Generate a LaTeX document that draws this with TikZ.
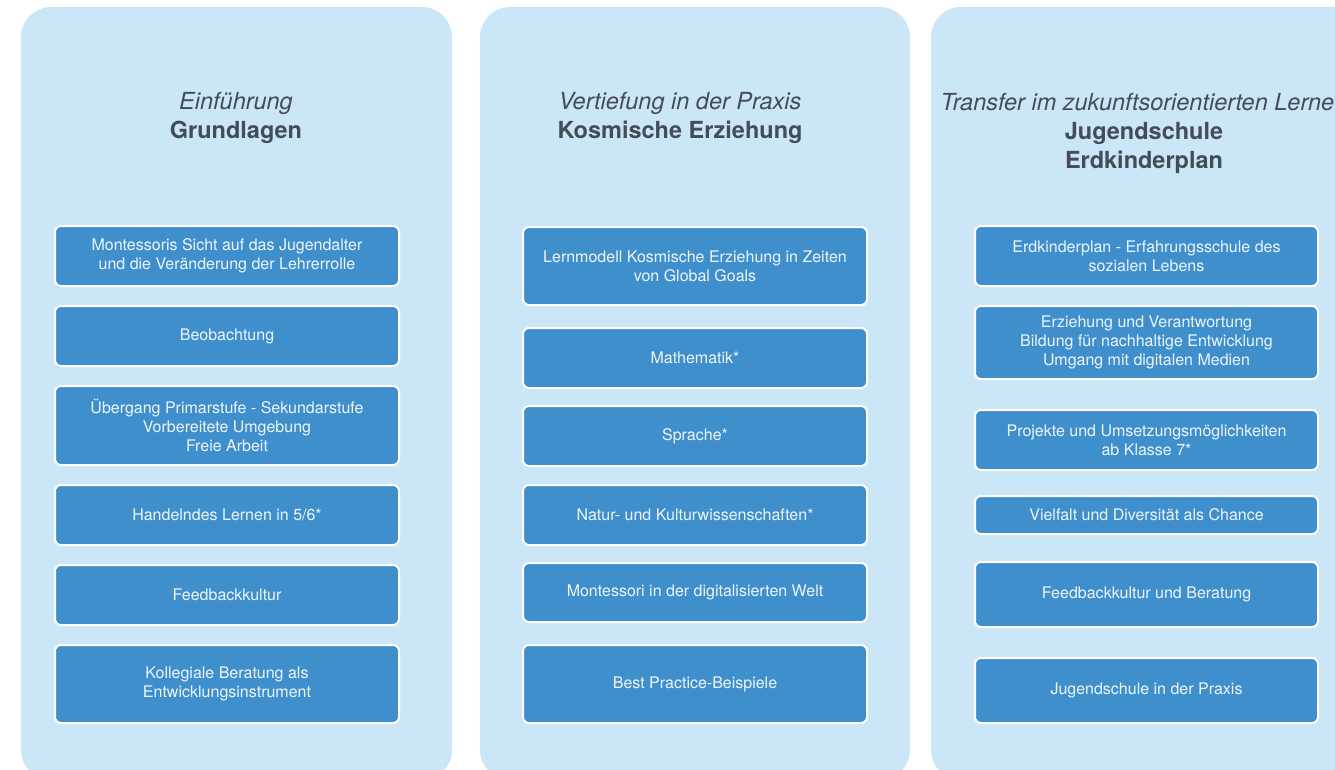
\documentclass[tikz,border=0pt]{standalone}
\usepackage{fontspec}
\setmainfont{TeX Gyre Heros}
\usepackage{xcolor}
\usetikzlibrary{positioning}
\definecolor{panelblue}{HTML}{CBE7F7}
\definecolor{boxblue}{HTML}{408FCD}
\definecolor{headgray}{HTML}{434C58}
\definecolor{boxtext}{HTML}{EDF5FB}

\begin{document}
\begin{tikzpicture}[
  x=1pt, y=-1pt,
  node distance=18pt,
  panel/.style={fill=panelblue, rounded corners=30pt},
  box/.style={rectangle, draw=white, line width=2pt, fill=boxblue, rounded corners=6pt,
              minimum width=344pt, minimum height=60pt, align=center,
              text=boxtext, font=\fontsize{16}{19}\selectfont},
  head/.style={align=center, inner sep=0pt, text=headgray,
               font=\fontsize{23.5}{29}\selectfont}
]
  \useasboundingbox (0,0) rectangle (1335,770);
  \clip (0,0) rectangle (1335,770);
  % Spalten
  \fill[panel] (21,7) rectangle (452,780);
  \fill[panel] (480,7) rectangle (910,780);
  \fill[panel] (931,7) rectangle (1362,780);
  % Köpfe
  \node[head] (h1) at (236,118) {\textit{Einführung}\\\textbf{Grundlagen}};
  \node[head] (h2) at (680,118) {\textit{Vertiefung in der Praxis}\\\textbf{Kosmische Erziehung}};
  \node[head] (h3) at (1144,133) {\textit{Transfer im zukunftsorientierten Lernen}\\\textbf{Jugendschule}\\\textbf{Erdkinderplan}};
  % linke Spalte: Grundlagen
  \node[box, anchor=north] (g1) at (227,225) {Montessoris Sicht auf das Jugendalter\\und die Veränderung der Lehrerrolle};
  \node[box, below=of g1] (g2) {Beobachtung};
  \node[box, below=of g2, minimum height=79pt] (g3) {Übergang Primarstufe - Sekundarstufe\\Vorbereitete Umgebung\\Freie Arbeit};
  \node[box, below=of g3] (g4) {Handelndes Lernen in 5/6*};
  \node[box, below=of g4] (g5) {Feedbackkultur};
  \node[box, below=of g5, minimum height=78pt] (g6) {Kollegiale Beratung als\\Entwicklungsinstrument};
  % mittlere Spalte: Kosmische Erziehung
  \node[box, anchor=north, minimum height=78pt] (k1) at (695,226) {Lernmodell Kosmische Erziehung in Zeiten\\von Global Goals};
  \node[box, below=21pt of k1] (k2) {Mathematik*};
  \node[box, below=16pt of k2] (k3) {Sprache*};
  \node[box, below=17pt of k3] (k4) {Natur- und Kulturwissenschaften*};
  \node[box, below=16pt of k4, minimum height=59pt] (k5) {Montessori in der digitalisierten Welt};
  \node[box, below=21pt of k5, minimum height=78pt] (k6) {Best Practice-Beispiele};
  % rechte Spalte: Jugendschule
  \node[box, anchor=north, minimum width=343pt] (j1) at (1146.5,225) {Erdkinderplan - Erfahrungsschule des\\sozialen Lebens};
  \node[box, below=of j1, minimum width=343pt, minimum height=73pt] (j2) {Erziehung und Verantwortung\\Bildung für nachhaltige Entwicklung\\Umgang mit digitalen Medien};
  \node[box, below=29pt of j2, minimum width=343pt] (j3) {Projekte und Umsetzungsmöglichkeiten\\ab Klasse 7*};
  \node[box, below=24pt of j3, minimum width=343pt, minimum height=38pt] (j4) {Vielfalt und Diversität als Chance};
  \node[box, below=26pt of j4, minimum width=343pt, minimum height=65pt] (j5) {Feedbackkultur und Beratung};
  \node[box, below=29pt of j5, minimum width=343pt, minimum height=65pt] (j6) {Jugendschule in der Praxis};
\end{tikzpicture}
\end{document}
